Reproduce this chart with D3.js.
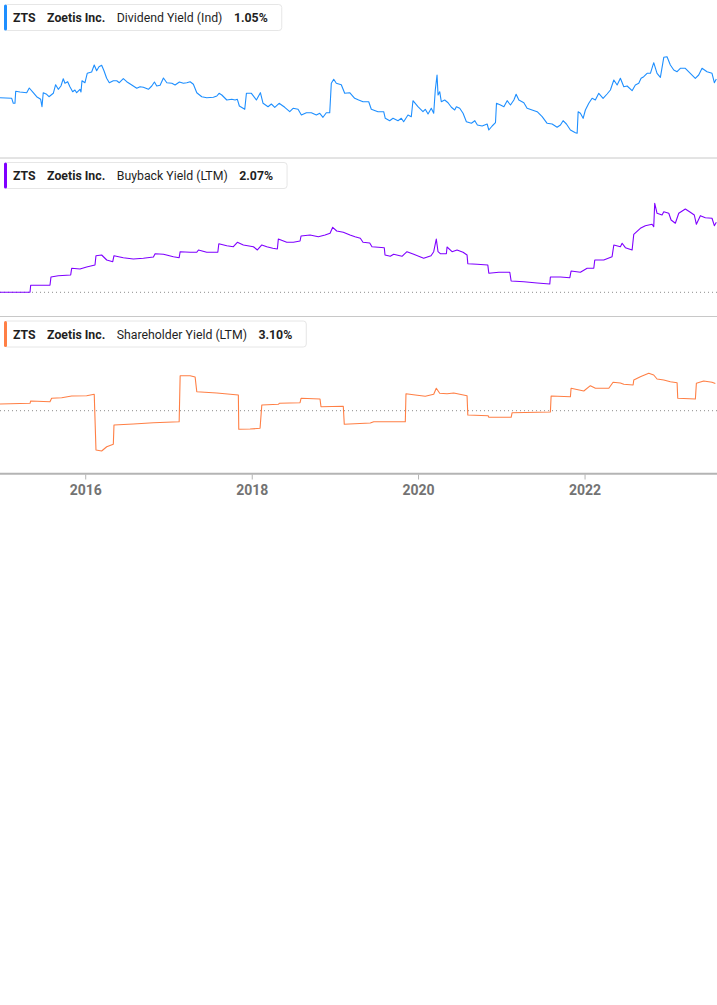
<!DOCTYPE html>
<html>
<head>
<meta charset="utf-8">
<script src="https://cdnjs.cloudflare.com/ajax/libs/d3/7.8.5/d3.min.js"></script>
<style>
  body { margin: 0; background: #fff; }
  svg { display: block; }
</style>
</head>
<body>
<div id="vis"></div>
<script>
// ZTS yields. Times are decimal years, values in %.
const DIV_T = [2014.975,2015.116,2015.135,2015.155,2015.164,2015.215,2015.296,2015.327,2015.375,2015.416,2015.464,2015.480,2015.495,2015.536,2015.564,2015.616,2015.644,2015.676,2015.708,2015.736,2015.756,2015.789,2015.816,2015.849,2015.876,2015.897,2015.937,2015.949,2015.961,2015.997,2016.024,2016.077,2016.108,2016.137,2016.165,2016.197,2016.225,2016.257,2016.289,2016.337,2016.378,2016.409,2016.457,2016.498,2016.558,2016.618,2016.658,2016.697,2016.758,2016.798,2016.830,2016.858,2016.898,2016.938,2016.979,2017.039,2017.078,2017.130,2017.178,2017.219,2017.259,2017.298,2017.339,2017.399,2017.459,2017.539,2017.580,2017.607,2017.640,2017.700,2017.760,2017.800,2017.827,2017.851,2017.916,2017.936,2017.996,2018.056,2018.104,2018.136,2018.196,2018.236,2018.277,2018.329,2018.397,2018.457,2018.497,2018.557,2018.597,2018.657,2018.717,2018.777,2018.818,2018.857,2018.897,2018.938,2018.957,2018.986,2019.017,2019.077,2019.118,2019.178,2019.238,2019.286,2019.338,2019.407,2019.438,2019.518,2019.587,2019.606,2019.659,2019.699,2019.759,2019.799,2019.827,2019.879,2019.919,2019.939,2019.999,2020.059,2020.087,2020.120,2020.159,2020.188,2020.207,2020.228,2020.240,2020.260,2020.279,2020.320,2020.360,2020.400,2020.440,2020.460,2020.500,2020.540,2020.580,2020.640,2020.681,2020.712,2020.769,2020.829,2020.849,2020.889,2020.929,2020.941,2020.989,2021.030,2021.069,2021.109,2021.150,2021.177,2021.210,2021.270,2021.309,2021.369,2021.430,2021.490,2021.550,2021.610,2021.670,2021.710,2021.742,2021.782,2021.830,2021.890,2021.911,2021.923,2021.950,2021.983,2022.010,2022.051,2022.091,2022.130,2022.171,2022.223,2022.271,2022.311,2022.352,2022.392,2022.431,2022.472,2022.512,2022.572,2022.611,2022.652,2022.680,2022.712,2022.752,2022.792,2022.832,2022.872,2022.912,2022.953,2022.992,2023.032,2023.073,2023.113,2023.152,2023.212,2023.272,2023.332,2023.373,2023.413,2023.473,2023.533,2023.561,2023.585];
const DIV_V = [0.863,0.857,0.807,0.807,0.927,0.92,0.913,0.96,0.913,0.873,0.847,0.773,0.913,0.897,0.873,0.907,0.993,0.947,0.98,1.053,1.007,1.023,0.973,0.923,0.94,0.913,0.947,0.92,1.033,1.013,1.107,1.12,1.19,1.133,1.173,1.187,1.133,1.057,1.013,1.033,1.033,1.013,1.053,1.023,0.99,0.957,0.973,0.967,0.947,0.98,1.02,0.98,0.987,1.06,1.013,1.007,0.99,1.02,1.007,1.013,1.023,0.997,0.913,0.873,0.863,0.867,0.88,0.907,0.89,0.84,0.847,0.84,0.847,0.78,0.747,0.907,0.907,0.84,0.913,0.807,0.773,0.80,0.767,0.807,0.767,0.723,0.757,0.747,0.69,0.713,0.713,0.69,0.707,0.667,0.713,0.713,1.007,1.047,1.007,0.993,0.907,0.913,0.857,0.84,0.823,0.823,0.747,0.723,0.723,0.657,0.633,0.657,0.633,0.657,0.623,0.69,0.673,0.833,0.773,0.723,0.747,0.70,0.757,0.707,0.94,1.09,0.89,0.923,0.823,0.84,0.813,0.767,0.74,0.773,0.757,0.707,0.623,0.607,0.633,0.59,0.58,0.60,0.54,0.58,0.613,0.807,0.79,0.773,0.833,0.79,0.84,0.897,0.84,0.813,0.757,0.74,0.723,0.673,0.607,0.60,0.567,0.59,0.633,0.60,0.54,0.513,0.507,0.723,0.707,0.657,0.74,0.807,0.857,0.84,0.907,0.857,0.90,0.94,1.04,0.99,1.057,0.973,0.98,0.933,0.99,1.007,1.057,1.073,1.107,1.107,1.213,1.107,1.067,1.267,1.273,1.19,1.14,1.123,1.157,1.157,1.107,1.057,1.09,1.157,1.123,1.107,1.013,1.05];

const BUY_T = [2014.975,2015.336,2015.344,2015.576,2015.588,2015.676,2015.825,2015.837,2015.937,2016.017,2016.117,2016.129,2016.197,2016.258,2016.330,2016.345,2016.457,2016.577,2016.697,2016.818,2016.838,2016.938,2017.058,2017.127,2017.139,2017.259,2017.339,2017.359,2017.459,2017.592,2017.604,2017.700,2017.779,2017.827,2017.899,2018.020,2018.068,2018.121,2018.181,2018.253,2018.308,2018.320,2018.421,2018.501,2018.581,2018.593,2018.701,2018.801,2018.882,2018.942,2018.974,2019.022,2019.101,2019.182,2019.242,2019.306,2019.338,2019.419,2019.446,2019.594,2019.603,2019.666,2019.707,2019.807,2019.867,2019.948,2020.068,2020.156,2020.188,2020.219,2020.240,2020.267,2020.340,2020.348,2020.408,2020.468,2020.540,2020.588,2020.597,2020.709,2020.837,2020.849,2020.969,2021.101,2021.117,2021.270,2021.430,2021.582,2021.589,2021.710,2021.823,2021.838,2021.950,2022.031,2022.111,2022.123,2022.231,2022.331,2022.352,2022.431,2022.452,2022.491,2022.572,2022.592,2022.671,2022.731,2022.812,2022.832,2022.844,2022.872,2022.932,2022.953,2023.013,2023.041,2023.092,2023.133,2023.212,2023.272,2023.320,2023.345,2023.393,2023.453,2023.533,2023.561,2023.585];
const BUY_V = [0,0,0.207,0.207,0.453,0.491,0.512,0.710,0.689,0.749,0.808,1.083,1.104,0.956,0.905,1.083,1.024,0.985,1.006,1.045,1.142,1.124,1.053,1.024,1.201,1.184,1.184,1.252,1.184,1.184,1.438,1.379,1.349,1.480,1.400,1.349,1.252,1.400,1.349,1.302,1.281,1.577,1.480,1.480,1.518,1.666,1.696,1.645,1.696,1.746,1.923,1.814,1.775,1.696,1.645,1.598,1.480,1.459,1.349,1.320,1.104,1.065,1.124,1.065,1.201,1.124,1.006,1.083,1.201,1.577,1.201,1.142,1.142,1.340,1.201,1.252,1.184,1.104,0.846,0.829,0.808,0.562,0.592,0.592,0.334,0.314,0.275,0.246,0.453,0.453,0.432,0.630,0.592,0.710,0.710,0.956,0.956,1.053,1.400,1.349,1.450,1.320,1.252,1.716,1.894,1.971,2.012,1.941,2.634,2.338,2.287,2.385,2.338,2.139,2.042,2.338,2.465,2.367,2.287,2.012,2.267,2.207,2.190,1.971,2.07];

const SH_T = [2014.975,2015.336,2015.344,2015.576,2015.596,2015.717,2015.837,2016.017,2016.108,2016.129,2016.197,2016.258,2016.337,2016.345,2016.577,2016.818,2017.127,2017.139,2017.259,2017.319,2017.339,2017.580,2017.839,2017.844,2017.980,2018.100,2018.121,2018.320,2018.332,2018.581,2018.593,2018.821,2018.833,2019.101,2019.113,2019.426,2019.467,2019.847,2019.855,2019.967,2020.087,2020.188,2020.219,2020.260,2020.348,2020.428,2020.588,2020.597,2020.841,2020.849,2021.117,2021.129,2021.589,2021.598,2021.830,2021.838,2021.991,2022.070,2022.131,2022.292,2022.343,2022.431,2022.472,2022.584,2022.592,2022.671,2022.772,2022.832,2022.872,2022.953,2023.032,2023.113,2023.121,2023.333,2023.345,2023.433,2023.533,2023.573];
const SH_V = [0.764,0.844,1.106,1.026,1.414,1.482,1.676,1.71,1.87,-4.48,-4.594,-4.104,-3.83,-1.63,-1.516,-1.368,-1.254,3.99,3.99,3.842,2.166,2.018,1.79,-2.12,-2.086,-2.006,0.65,0.73,0.844,0.912,1.414,1.334,0.456,0.502,-1.55,-1.402,-1.254,-1.254,1.938,1.79,1.642,1.87,2.554,1.984,1.938,2.018,1.71,-0.49,-0.57,-0.752,-0.752,-0.228,-0.148,1.676,1.596,2.554,2.246,2.85,2.554,2.554,3.238,3.158,3.01,2.93,3.5,3.876,4.264,4.07,3.614,3.5,3.306,3.192,1.414,1.334,3.124,3.386,3.238,3.10];

const METRICS = ["Dividend Yield (Ind)", "Buyback Yield (LTM)", "Shareholder Yield (LTM)"];
const LAST_VALUES = ["1.05%", "2.07%", "3.10%"];
const YEAR_TICKS = [2016, 2018, 2020, 2022];

const FRAME_WIDTH = 717;
const FRAME_HEIGHT = 1005;
const FONT = "Roboto, 'Noto Sans', sans-serif";

// decimal year -> Date (UTC)
function toDate(t) {
  const y = Math.floor(t);
  const start = Date.UTC(y, 0, 1), end = Date.UTC(y + 1, 0, 1);
  return new Date(start + (t - y) * (end - start));
}

const FRAME = d3.select("#vis")
                .append("svg")
                  .attr("width", FRAME_WIDTH)
                  .attr("height", FRAME_HEIGHT);

const X_SCALE = d3.scaleUtc()
                  .domain([toDate(2014.975), toDate(2023.593)])
                  .range([0, FRAME_WIDTH]);

// one entry per stacked panel
const PANELS = [
  {t: DIV_T, v: DIV_V, color: "#1e8fff", top: 0,     domain: [0.5, 1.3], range: [134, 54],      zero: false},
  {t: BUY_T, v: BUY_V, color: "#7f00ff", top: 158,   domain: [0, 2.5],   range: [292.3, 207.8], zero: true},
  {t: SH_T,  v: SH_V,  color: "#ff7f45", top: 316.5, domain: [-4, 4],    range: [445.8, 375.6], zero: true}
];

PANELS.forEach((p, i) => {
  const yScale = d3.scaleLinear().domain(p.domain).range(p.range);
  const data = d3.zip(p.t, p.v).map(d => ({date: toDate(d[0]), value: d[1]}));

  // separator above panel
  if (i > 0) {
    FRAME.append("line")
      .attr("x1", 0).attr("x2", FRAME_WIDTH)
      .attr("y1", p.top).attr("y2", p.top)
      .attr("stroke", "#c8c8c8")
      .attr("stroke-width", 1);
  }

  // dotted zero line
  if (p.zero) {
    FRAME.append("line")
      .attr("x1", 0).attr("x2", FRAME_WIDTH)
      .attr("y1", yScale(0)).attr("y2", yScale(0))
      .attr("stroke", "#8c8c8c")
      .attr("stroke-width", 1)
      .attr("stroke-dasharray", "1,3");
  }

  const line = d3.line()
                 .x(d => X_SCALE(d.date))
                 .y(d => yScale(d.value));

  FRAME.append("path")
    .datum(data)
    .attr("d", line)
    .attr("fill", "none")
    .attr("stroke", p.color)
    .attr("stroke-width", 1.1)
    .attr("stroke-linejoin", "round");

  // legend box
  const boxY = p.top + 4.5;
  const legend = FRAME.append("g");
  const box = legend.append("rect")
    .attr("x", 4.5).attr("y", boxY)
    .attr("height", 26)
    .attr("rx", 3)
    .attr("fill", "#fff")
    .attr("stroke", "#e6e6e6");
  legend.append("rect")
    .attr("x", 4).attr("y", boxY)
    .attr("width", 3).attr("height", 26)
    .attr("rx", 1.5)
    .attr("fill", p.color);

  const parts = [
    {text: "ZTS", bold: true},
    {text: "Zoetis Inc.", bold: true},
    {text: METRICS[i], bold: false},
    {text: LAST_VALUES[i], bold: true}
  ];
  let x = 13;
  parts.forEach(part => {
    const txt = legend.append("text")
      .attr("x", x)
      .attr("y", boxY + 17.5)
      .attr("font-family", FONT)
      .attr("font-size", "12.3px")
      .attr("font-weight", part.bold ? "bold" : "normal")
      .attr("fill", "#1f1f1f")
      .text(part.text);
    x += txt.node().getComputedTextLength() + 11.5;
  });
  box.attr("width", x - 11.5 + 14 - 4.5);
});

// bottom time axis
FRAME.append("line")
  .attr("x1", 0).attr("x2", FRAME_WIDTH)
  .attr("y1", 473.7).attr("y2", 473.7)
  .attr("stroke", "#b4b4b4")
  .attr("stroke-width", 2);

const axisG = FRAME.append("g")
  .attr("transform", "translate(0,474.5)")
  .call(d3.axisBottom(X_SCALE)
          .tickValues(YEAR_TICKS.map(y => toDate(y)))
          .tickFormat(d3.utcFormat("%Y"))
          .tickSize(5)
          .tickPadding(6))
  .attr("font-family", FONT)
  .attr("font-size", "14px")
  .attr("font-weight", "bold");

axisG.select(".domain").remove();
axisG.selectAll(".tick line").attr("stroke", "#b4b4b4");
axisG.selectAll(".tick text").attr("fill", "#737373");
</script>
</body>
</html>
